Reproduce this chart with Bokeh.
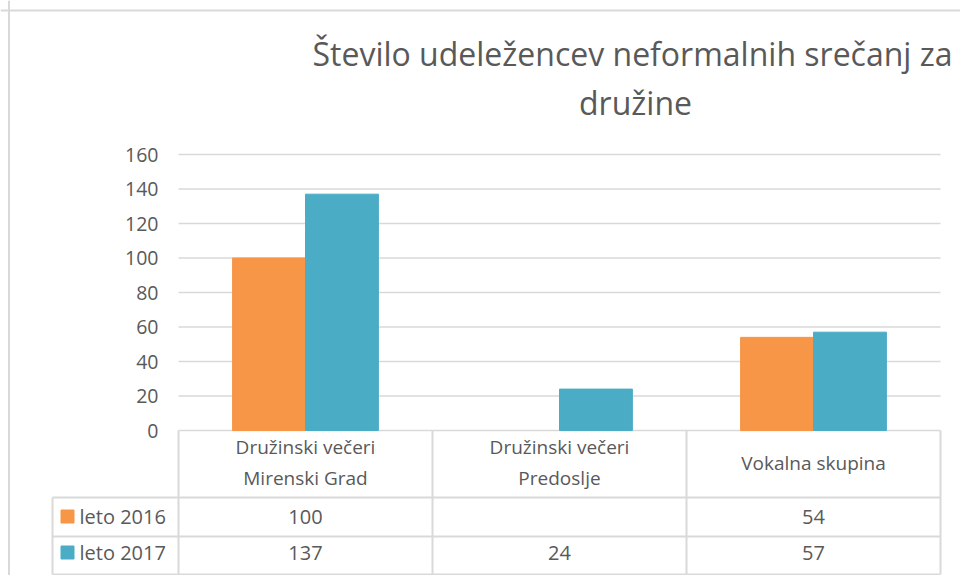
import math
from bokeh.plotting import figure
from bokeh.models import Range1d, Span, FixedTicker
from bokeh.core.properties import value
from bokeh.embed import file_html
from bokeh.resources import INLINE

# ---- data ----
title_lines = ["Število udeležencev neformalnih srečanj za", "družine"]
categories = ["Družinski večeri\nMirenski Grad", "Družinski večeri\nPredoslje", "Vokalna skupina"]
series_names = ["leto 2016", "leto 2017"]
leto_2016 = [100, None, 54]
leto_2017 = [137, 24, 57]
y_ticks = [0, 20, 40, 60, 80, 100, 120, 140, 160]
colors = ["#F79646", "#4BACC6"]

# ---- layout constants (pixels -> data) ----
W, H = 960, 575
PX_X = 254.0          # pixels per category column
PX_Y = 1.725          # pixels per value unit
X0_PAGE, Y0_PAGE = 178, 430   # page position of (0, 0)
def dx(px): return (px - X0_PAGE) / PX_X
def dy(py): return (Y0_PAGE - py) / PX_Y

x_start, x_end = dx(0), dx(W)
y_end, y_start = dy(0), dy(H)

FONT = value("Open Sans")
GRAY_TXT = "#595959"
GRAY_LN = "#d9d9d9"

p = figure(width=W, height=H, output_backend="svg", toolbar_location=None,
           x_range=Range1d(x_start, x_end), y_range=Range1d(y_start, y_end),
           x_axis_location=None, min_border=0)
p.outline_line_color = None
p.xgrid.visible = False
p.ygrid.visible = False
p.background_fill_color = "white"
p.border_fill_color = "white"

# y axis fixed at x=0
ax = p.yaxis[0]
ax.fixed_location = 0
ax.ticker = FixedTicker(ticks=y_ticks)
ax.bounds = (y_ticks[0], y_ticks[-1])
ax.axis_line_color = None
ax.major_tick_line_color = None
ax.minor_tick_line_color = None
ax.major_tick_out = 0
ax.major_tick_in = 0
ax.major_label_standoff = 20
ax.major_label_text_font = "Open Sans"
ax.major_label_text_font_size = "19.5px"
ax.major_label_text_color = GRAY_TXT

n = len(categories)
centers = [i + 0.5 for i in range(n)]

# outer border (left + top)
p.add_layout(Span(location=dx(8.5), dimension="height", line_color=GRAY_LN, line_width=2))
p.add_layout(Span(location=dy(10), dimension="width", line_color=GRAY_LN, line_width=2))

# gridlines
p.segment(x0=[0] * len(y_ticks), x1=[n] * len(y_ticks), y0=y_ticks, y1=y_ticks,
          line_color=GRAY_LN, line_width=1.5)

# bars
bw = 0.287
offs = [-bw / 2, bw / 2]
for vals, col, off in zip([leto_2016, leto_2017], colors, offs):
    tops = [float("nan") if v is None else v for v in vals]
    p.vbar(x=[c + off for c in centers], top=tops, bottom=0, width=bw,
           fill_color=col, line_color=col)

# title
p.text(x=[dx(632)], y=[dy(53)], text=[title_lines[0]], text_font=FONT,
       text_font_size="32px", text_color=GRAY_TXT, text_align="center",
       text_baseline="alphabetic")
p.text(x=[dx(635)], y=[dy(102)], text=[title_lines[1]], text_font=FONT,
       text_font_size="32px", text_color=GRAY_TXT, text_align="center",
       text_baseline="alphabetic")

# data table
leg_left = dx(52)
hdr_bot, r1_bot, r2_bot = dy(497), dy(536), dy(574)
# verticals
p.segment(x0=list(range(n + 1)), x1=list(range(n + 1)), y0=[0] * (n + 1),
          y1=[r2_bot] * (n + 1), line_color=GRAY_LN, line_width=2)
p.segment(x0=[leg_left], x1=[leg_left], y0=[hdr_bot], y1=[r2_bot],
          line_color=GRAY_LN, line_width=2)
# horizontals
p.segment(x0=[leg_left] * 3, x1=[n] * 3, y0=[hdr_bot, r1_bot, r2_bot],
          y1=[hdr_bot, r1_bot, r2_bot], line_color=GRAY_LN, line_width=2)

# header labels
p.text(x=centers, y=[dy(462)] * n, text=categories, text_font=FONT,
       text_font_size="19px", text_color=GRAY_TXT, text_align="center",
       text_baseline="middle", text_line_height=1.22)

row_y = [dy(516), dy(552)]
for name, vals, col, ry in zip(series_names, [leto_2016, leto_2017], colors, row_y):
    p.scatter(x=[dx(67)], y=[ry], marker="square", size=13,
              fill_color=col, line_color=col)
    p.text(x=[dx(79)], y=[ry], text=[name], text_font=FONT, text_font_size="20px",
           text_color=GRAY_TXT, text_align="left", text_baseline="middle")
    p.text(x=centers, y=[ry] * n, text=["" if v is None else str(v) for v in vals],
           text_font=FONT, text_font_size="20px", text_color=GRAY_TXT,
           text_align="center", text_baseline="middle")

open("out.html", "w").write(file_html(p, INLINE))
